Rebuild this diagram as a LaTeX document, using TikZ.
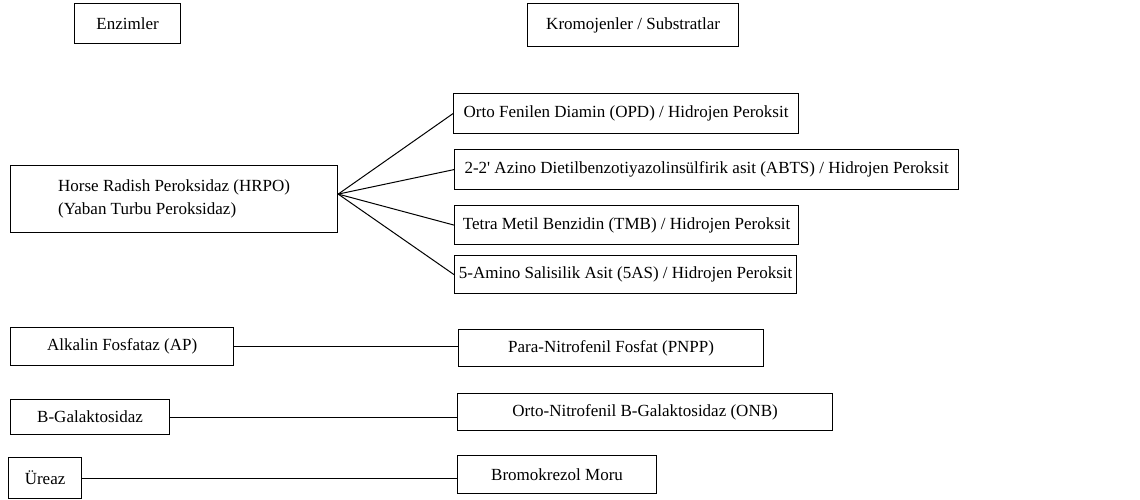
\documentclass[tikz,border=0pt]{standalone}
\usepackage{fontspec}
\setmainfont{Liberation Serif}
\usepackage{tikz}
\usetikzlibrary{calc}

\begin{document}
\begin{tikzpicture}[x=1pt, y=-1pt,
        cell/.style={draw, line width=1.2pt, anchor=north west, inner xsep=3pt, inner ysep=0pt, align=left, font=\fontsize{17}{23}\selectfont},
        link/.style={line width=1pt}]
        \useasboundingbox (0,0) rectangle (1140,500);
        
        \node[cell, minimum width=106pt, minimum height=40pt] (enz) at (74,3) {Enzimler};
        \node[cell, minimum width=211pt, minimum height=43pt] (krom) at (527,3) {Kromojenler / Substratlar};
        
        \node[cell, minimum width=327pt, minimum height=67pt] (hrpo) at (10,165) {Horse Radish Peroksidaz (HRPO)\\(Yaban Turbu Peroksidaz)};
        \node[cell, minimum width=345pt, minimum height=40pt] (opd) at (453,93) {Orto Fenilen Diamin (OPD) / Hidrojen Peroksit};
        \node[cell, minimum width=504pt, minimum height=40pt] (abts) at (454,149) {2-2\textquotesingle{} Azino Dietilbenzotiyazolinsülfirik asit (ABTS) / Hidrojen Peroksit};
        \node[cell, minimum width=344pt, minimum height=39pt] (tmb) at (454,205) {Tetra Metil Benzidin (TMB) / Hidrojen Peroksit};
        \node[cell, minimum width=342pt, minimum height=38pt] (sas) at (454,255) {5-Amino Salisilik Asit (5AS) / Hidrojen Peroksit};
        
        \node[cell, minimum width=223pt, minimum height=38pt] (ap) at (10,327) {Alkalin Fosfataz (AP)};
        \node[cell, minimum width=305pt, minimum height=37pt] (pnpp) at (458,329) {Para-Nitrofenil Fosfat (PNPP)};
        \node[cell, minimum width=159pt, minimum height=35pt] (bgal) at (10,399) {B-Galaktosidaz};
        \node[cell, minimum width=375pt, minimum height=37pt] (onb) at (457,393) {Orto-Nitrofenil B-Galaktosidaz (ONB)};
        \node[cell, minimum width=73pt, minimum height=41pt] (ure) at (8,457) {Üreaz};
        \node[cell, minimum width=199pt, minimum height=38pt] (bromo) at (457,455) {Bromokrezol Moru};
        
        % peroksidaz kollari
        \coordinate (hub) at ([yshift=5pt]hrpo.east);
        \foreach \s in {opd, abts, tmb, sas}
            \draw[link] (hub) -- (\s.west);
        
        \draw[link] (ap.east) -- (ap.east -| pnpp.west);
        \draw[link] (bgal.east) -- (bgal.east -| onb.west);
        \draw[link] (ure.east) -- (ure.east -| bromo.west);
    \end{tikzpicture}
\end{document}
